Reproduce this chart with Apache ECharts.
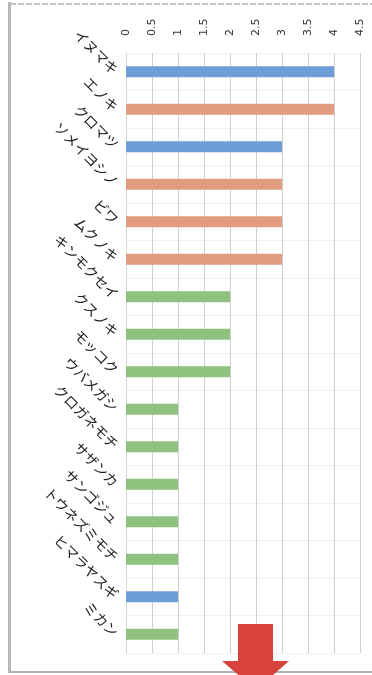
<!DOCTYPE html>
<html>
<head>
<meta charset="utf-8">
<script src="https://cdn.jsdelivr.net/npm/echarts@6/dist/echarts.min.js"></script>
<style>
html,body{margin:0;padding:0;background:#fff;}
#c{width:372px;height:675px;}
</style>
</head>
<body>
<div id="c"></div>
<script>
var categories = ['イヌマキ','エノキ','クロマツ','ソメイヨシノ','ビワ','ムクノキ','キンモクセイ','クスノキ','モッコク','ウバメガシ','クロガネモチ','サザンカ','サンゴジュ','トウネズミモチ','ヒマラヤスギ','ミカン'];
var values = [4,4,3,3,3,3,2,2,2,1,1,1,1,1,1,1];
var groups = ['blue','salmon','blue','salmon','salmon','salmon','green','green','green','green','green','green','green','green','blue','green'];
var groupColors = {blue:'#6f9dd8', salmon:'#e29c7f', green:'#8fc27e'};
var tickValues = [0,0.5,1,1.5,2,2.5,3,3.5,4,4.5];

var chart = echarts.init(document.getElementById('c'));
chart.setOption({
  animation:false,
  backgroundColor:'#fff',
  grid:{left:126,right:12,top:53,height:600},
  xAxis:{
    type:'value', position:'top', min:0, max:4.5, interval:0.5,
    axisLine:{show:false}, axisTick:{show:false},
    axisLabel:{rotate:-90, margin:17, color:'#333', fontSize:11, fontFamily:'DejaVu Sans',
      formatter:function(v){return String(v);}},
    splitLine:{show:true, lineStyle:{color:'#d0d0d0', width:1}}
  },
  yAxis:{
    type:'category', data:categories, inverse:true,
    axisLine:{show:true, lineStyle:{color:'#d6d6d6'}}, axisTick:{show:false},
    axisLabel:{rotate:-45, margin:10, color:'#222', fontSize:14, fontFamily:'Noto Sans CJK JP'},
    splitLine:{show:true, lineStyle:{color:'#f0f0f0'}}
  },
  series:[{
    type:'bar', barWidth:11,
    data: values.map(function(v,i){return {value:v, itemStyle:{color:groupColors[groups[i]]}};})
  }],
  graphic:[
    {type:'rect', shape:{x:8,y:2,width:3,height:671}, style:{fill:'#b8b8b8'}},
    {type:'line', shape:{x1:10,y1:4,x2:372,y2:4}, style:{stroke:'#c0c0c0', lineWidth:2, lineDash:[6,2]}},
    {type:'line', shape:{x1:10,y1:672,x2:372,y2:672}, style:{stroke:'#b0b0b0', lineWidth:2}},
    {type:'polygon', shape:{points:[[238,624],[273,624],[273,661],[289,661],[256,690],[222,661],[238,661]]},
      style:{fill:'#d8443c'}, z:10}
  ]
});
</script>
</body>
</html>
